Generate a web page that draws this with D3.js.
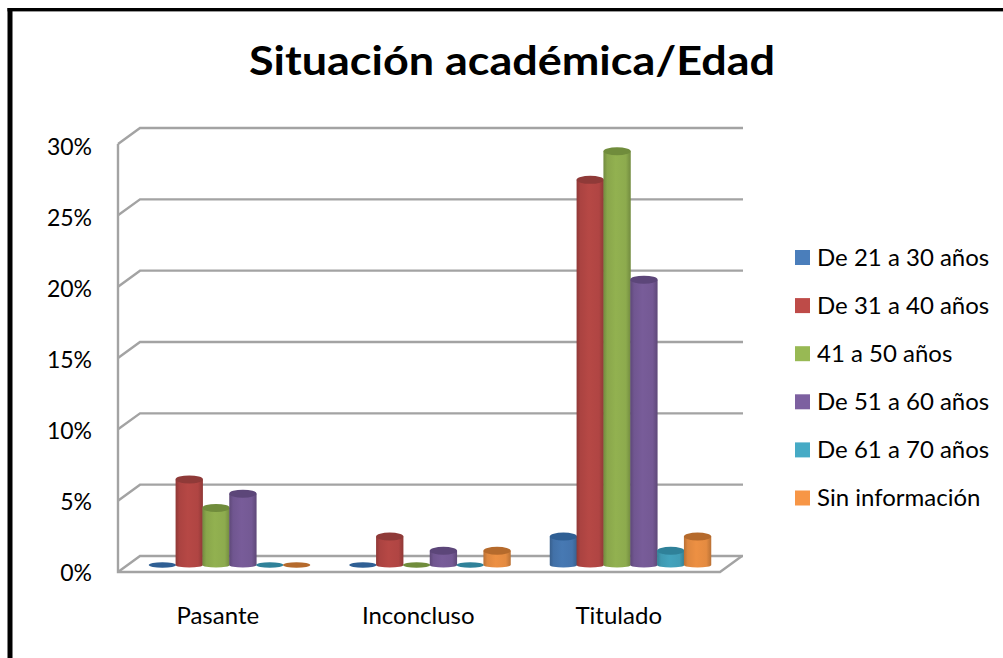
<!DOCTYPE html>
<html><head><meta charset="utf-8">
<script src="https://cdn.jsdelivr.net/npm/d3@7/dist/d3.min.js"></script>
<style>html,body{margin:0;padding:0;background:#fff}svg{display:block}text{font-family:Lato,"Open Sans",sans-serif;fill:#000}</style>
</head><body><svg id="c" width="1003" height="658"></svg>
<script>
const categories = ["Pasante","Inconcluso","Titulado"];
const seriesNames = ["De 21 a 30 años","De 31 a 40 años","41 a 50 años","De 51 a 60 años","De 61 a 70 años","Sin información"];
const s21 = [0,0,2];
const s31 = [6,2,27];
const s41 = [4,0,29];
const s51 = [5,1,20];
const s61 = [0,0,1];
const sSin = [0,1,2];
const seriesValues = [s21,s31,s41,s51,s61,sSin];
const colors = ["#4a7ebb","#be4b48","#98b954","#7d60a0","#46aac5","#f79646"];
const darks = ["#2f5f94","#8f3a38","#708c3c","#5c4679","#2f8199","#b56a2c"];
const tickVals = [0,5,10,15,20,25,30];

const svg = d3.select("#c");
const W = 1003, H = 658;
svg.append("rect").attr("x",7.5).attr("y",8).attr("width",5).attr("height",H-8).attr("fill","#000");
svg.append("rect").attr("x",7.5).attr("y",8).attr("width",W-7.5).attr("height",3.4).attr("fill","#000");

svg.append("text").attr("x",512).attr("y",75).attr("text-anchor","middle")
  .attr("font-size",41).attr("font-weight",700).attr("textLength",526).attr("lengthAdjust","spacingAndGlyphs").text("Situación académica/Edad");

const y = d3.scaleLinear().domain([0,30]).range([572,144]);
const yLabel = d3.scaleLinear().domain([0,30]).range([572,146]);
const dx = 22, dy = -16, left = 118, right = 720;
const wall = "#a3a3a3";
const grid = svg.append("g").attr("fill","none").attr("stroke",wall).attr("stroke-width",2.4);
tickVals.forEach(t=>{
  grid.append("path").attr("d",`M${left},${y(t)} L${left+dx},${y(t)+dy} H${right+dx+1}`);
});
grid.append("path").attr("d",`M${left},${y(30)} V${y(0)} H${right} L${right+dx},${y(0)+dy}`);

tickVals.forEach(t=>{
  svg.append("text").attr("x",92).attr("y",yLabel(t)+8.5).attr("text-anchor","end").attr("font-size",23).text(t+"%");
});

const x0 = d3.scaleBand().domain(categories).range([129,730.5]);
const x1 = d3.scaleBand().domain(seriesNames).range([0,161]);
const base = 565, ry = 4, ryBottom = 2.6;
const yv = v => y(v) - (y(0)-base);

const defs = svg.append("defs");
colors.forEach((c,i)=>{
  const g = defs.append("linearGradient").attr("id","g"+i);
  const mid = d3.color(c).darker(0.12);
  const dk = d3.color(c).darker(0.8);
  [[0,dk],[0.14,d3.color(c).darker(0.3)],[0.45,mid],[0.82,d3.color(c).darker(0.22)],[1,dk]].forEach(([o,col])=>{
    g.append("stop").attr("offset",o).attr("stop-color",col);
  });
});

const bars = svg.append("g");
categories.forEach((cat,ci)=>{
  seriesNames.forEach((name,si)=>{
    const v = seriesValues[si][ci];
    const xL = x0(cat)+(x0.bandwidth()-161)/2+x1(name);
    const w = x1.bandwidth()+0.5, cx = xL+w/2, rx = w/2;
    const yTop = yv(v);
    if (v>0) {
      bars.append("path").attr("fill",`url(#g${si})`)
        .attr("d",`M${xL},${yTop} V${base} A${rx},${ryBottom} 0 0 0 ${xL+w},${base} V${yTop} Z`);
    }
    bars.append("ellipse").attr("cx",cx).attr("cy",yTop).attr("rx",rx).attr("ry",v>0?ry:2.8).attr("fill",darks[si]);
  });
});

categories.forEach(cat=>{
  svg.append("text").attr("x",x0(cat)+x0.bandwidth()/2-11.5).attr("y",624).attr("text-anchor","middle").attr("font-size",24).text(cat);
});

const ly = d3.scalePoint().domain(seriesNames).range([257.5,498]);
seriesNames.forEach((n,i)=>{
  svg.append("rect").attr("x",795).attr("y",ly(n)-7.5).attr("width",15).attr("height",15).attr("fill",colors[i]);
  svg.append("text").attr("x",817).attr("y",ly(n)+8).attr("font-size",24).text(n);
});
</script></body></html>
